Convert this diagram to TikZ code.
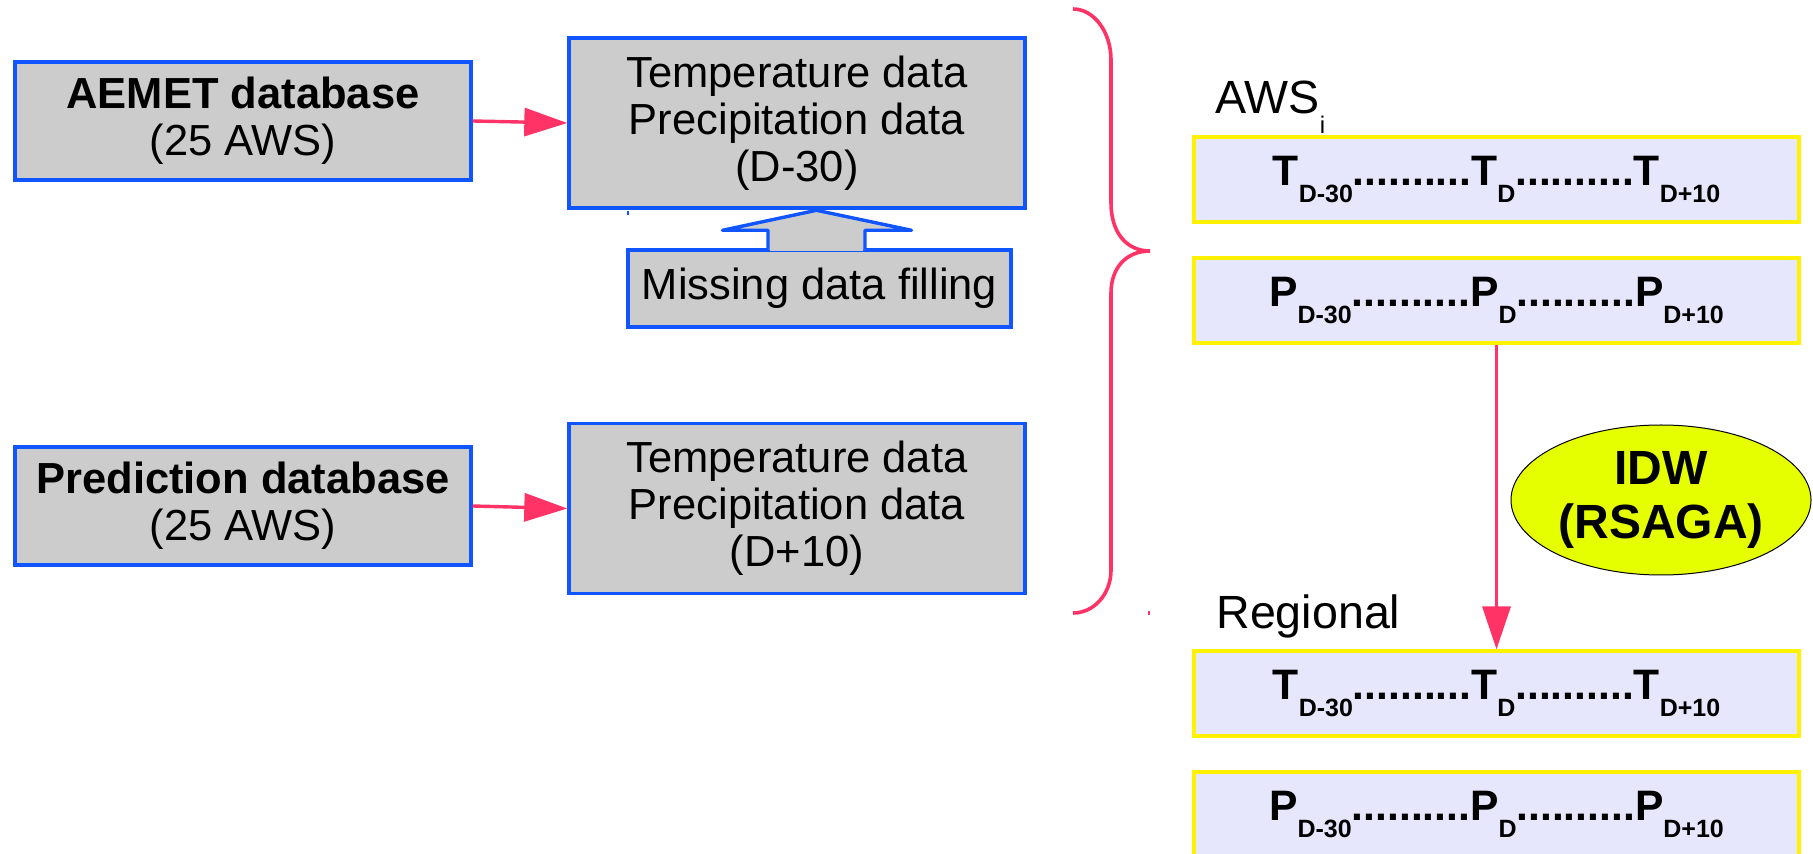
\documentclass[tikz,border=0pt]{standalone}
\usepackage{fontspec}
\setmainfont{Liberation Sans}
\usetikzlibrary{arrows.meta,shapes.geometric,calc}

\definecolor{boxblue}{RGB}{17,85,255}
\definecolor{boxgray}{RGB}{204,204,204}
\definecolor{flowred}{RGB}{255,51,102}
\definecolor{lav}{RGB}{230,230,252}
\definecolor{idwyellow}{RGB}{230,255,0}

% lowered subscript used in the series rows
\newcommand{\lowsub}[1]{\raisebox{-8.5pt}{\fontsize{12.5}{12.5}\selectfont #1}}

\begin{document}
\begin{tikzpicture}[x=0.5pt,y=-0.5pt,
  lbox/.style={draw=boxblue, fill=boxgray, line width=1.7pt, align=center,
    inner sep=0pt, font=\fontsize{21.75}{23.5}\selectfont},
  srcbox/.style={lbox, minimum width=228pt, minimum height=59pt},
  databox/.style={lbox, minimum width=228pt, minimum height=85pt},
  rbox/.style={draw=yellow, fill=lav, line width=1.6pt, inner sep=0pt,
    minimum width=302.5pt, minimum height=42.5pt,
    font=\bfseries\fontsize{21.3}{24}\selectfont},
  flow/.style={draw=flowred, line width=1.7pt,
    -{Triangle[length=21.5pt,width=14pt]}},
  label/.style={anchor=base west, inner sep=0pt, font=\fontsize{23.3}{23.3}\selectfont}]

\useasboundingbox (0,0) rectangle (1813,854);
\clip (0,0) rectangle (1813,854);

% source databases and the data they deliver
\node[srcbox] (aemet) at (243,121) {\textbf{AEMET database}\\(25 AWS)};
\node[databox] (obs) at (797,123) {Temperature data\\Precipitation data\\(D-30)};
\node[srcbox] (pred) at (243,506) {\textbf{Prediction database}\\(25 AWS)};
\node[databox] (fcst) at (797,508.5) {Temperature data\\Precipitation data\\(D+10)};

\draw[flow] (aemet.east) -- (obs.west);
\draw[flow] (pred.east) -- (fcst.west);

% gap filling box with its block arrow
\node[lbox, minimum width=191.5pt, minimum height=38.5pt] (miss) at (819.5,288.5) {Missing data filling};
\filldraw[draw=boxblue, fill=boxgray, line width=1.7pt, line join=round]
  ($(miss.north)+(-51.5,1)$) -- ($(miss.north)+(-51.5,-18)$) -- ($(miss.north)+(-97,-18)$)
  -- ($(miss.north)+(-3,-38)$) -- ($(miss.north)+(92,-18)$) -- ($(miss.north)+(45.5,-18)$)
  -- ($(miss.north)+(45.5,1)$);
\fill[boxgray] ($(miss.north)+(-49.2,-4)$) rectangle ($(miss.north)+(43.2,3.2)$);
\draw[boxblue, line width=0.6pt] (628,211) -- (628,215);

% curly brace grouping both data sets
\draw[flowred, line width=1.8pt]
  (1073,9) .. controls (1094,9) and (1111,32) .. (1111,60) -- (1111,203)
  .. controls (1111,232) and (1126,251) .. (1150,251)
  .. controls (1126,251) and (1111,268) .. (1111,293) -- (1111,570)
  .. controls (1111,594) and (1094,613) .. (1073,613);
\draw[flowred, line width=0.6pt] (1149,611) -- (1149,615);

% station series
\node[label] (awslabel) at (1215,114) {AWS\raisebox{-10pt}{\fontsize{12}{12}\selectfont i}};
\node[rbox] (awsT) at (1496.5,179.5) {T\lowsub{D-30}..........T\lowsub{D}..........T\lowsub{D+10}};
\node[rbox] (awsP) at (1496.5,300.5) {P\lowsub{D-30}..........P\lowsub{D}..........P\lowsub{D+10}};

% interpolation
\node[ellipse, draw=black, line width=0.5pt, fill=idwyellow, minimum width=150pt,
  minimum height=75pt, inner sep=0pt, align=center,
  font=\bfseries\fontsize{24}{27}\selectfont] (idw) at (1661,500) {IDW\\(RSAGA)};

% regional series
\node[label] (reglabel) at (1216,628) {Regional};
\node[rbox] (regT) at (1496.5,693.5) {T\lowsub{D-30}..........T\lowsub{D}..........T\lowsub{D+10}};
\node[rbox] (regP) at (1496.5,814.5) {P\lowsub{D-30}..........P\lowsub{D}..........P\lowsub{D+10}};

\draw[flow] (awsP.south) -- (regT.north);
\end{tikzpicture}
\end{document}
